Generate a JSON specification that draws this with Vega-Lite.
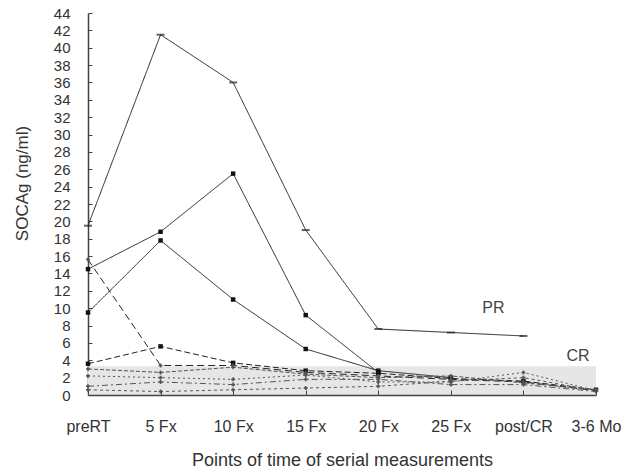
{
  "$schema": "https://vega.github.io/schema/vega-lite/v6.json",
  "width": 508,
  "height": 382,
  "autosize": "none",
  "padding": {"left": 88, "top": 13, "right": 46, "bottom": 81},
  "background": "white",
  "config": {"view": {"stroke": null}, "font": "Liberation Sans", "axis": {"labelOverlap": false}, "axisY": {"labelOverlap": false}, "axisQuantitative": {"labelOverlap": false}},
  "datasets": {
    "series": [
      {"s": "A", "t": "preRT", "v": 19.5}, {"s": "A", "t": "5 Fx", "v": 41.5}, {"s": "A", "t": "10 Fx", "v": 36}, {"s": "A", "t": "15 Fx", "v": 19}, {"s": "A", "t": "20 Fx", "v": 7.6}, {"s": "A", "t": "25 Fx", "v": 7.2}, {"s": "A", "t": "post/CR", "v": 6.8},
      {"s": "B", "t": "preRT", "v": 14.5}, {"s": "B", "t": "5 Fx", "v": 18.8}, {"s": "B", "t": "10 Fx", "v": 25.5}, {"s": "B", "t": "15 Fx", "v": 9.2}, {"s": "B", "t": "20 Fx", "v": 2.6},
      {"s": "C", "t": "preRT", "v": 9.5}, {"s": "C", "t": "5 Fx", "v": 17.8}, {"s": "C", "t": "10 Fx", "v": 11}, {"s": "C", "t": "15 Fx", "v": 5.3}, {"s": "C", "t": "20 Fx", "v": 2.8}, {"s": "C", "t": "25 Fx", "v": 2.0},
      {"s": "D", "t": "preRT", "v": 15.6}, {"s": "D", "t": "5 Fx", "v": 3.4}, {"s": "D", "t": "10 Fx", "v": 3.4}, {"s": "D", "t": "15 Fx", "v": 2.6}, {"s": "D", "t": "20 Fx", "v": 2.2}, {"s": "D", "t": "25 Fx", "v": 1.8}, {"s": "D", "t": "post/CR", "v": 1.5}, {"s": "D", "t": "3-6 Mo", "v": 0.5},
      {"s": "E", "t": "preRT", "v": 3.6}, {"s": "E", "t": "5 Fx", "v": 5.6}, {"s": "E", "t": "10 Fx", "v": 3.7}, {"s": "E", "t": "15 Fx", "v": 2.8}, {"s": "E", "t": "20 Fx", "v": 2.5}, {"s": "E", "t": "25 Fx", "v": 1.9}, {"s": "E", "t": "post/CR", "v": 1.6}, {"s": "E", "t": "3-6 Mo", "v": 0.6},
      {"s": "F", "t": "preRT", "v": 2.2}, {"s": "F", "t": "5 Fx", "v": 2.0}, {"s": "F", "t": "10 Fx", "v": 1.8}, {"s": "F", "t": "15 Fx", "v": 2.3}, {"s": "F", "t": "20 Fx", "v": 1.5}, {"s": "F", "t": "25 Fx", "v": 1.5}, {"s": "F", "t": "post/CR", "v": 2.6}, {"s": "F", "t": "3-6 Mo", "v": 0.5},
      {"s": "G", "t": "preRT", "v": 1.0}, {"s": "G", "t": "5 Fx", "v": 1.5}, {"s": "G", "t": "10 Fx", "v": 1.2}, {"s": "G", "t": "15 Fx", "v": 1.8}, {"s": "G", "t": "20 Fx", "v": 1.8}, {"s": "G", "t": "25 Fx", "v": 1.2}, {"s": "G", "t": "post/CR", "v": 1.2}, {"s": "G", "t": "3-6 Mo", "v": 0.4},
      {"s": "H", "t": "preRT", "v": 0.6}, {"s": "H", "t": "5 Fx", "v": 0.4}, {"s": "H", "t": "10 Fx", "v": 0.6}, {"s": "H", "t": "15 Fx", "v": 0.8}, {"s": "H", "t": "20 Fx", "v": 1.0}, {"s": "H", "t": "25 Fx", "v": 1.6}, {"s": "H", "t": "post/CR", "v": 2.0}, {"s": "H", "t": "3-6 Mo", "v": 0.5},
      {"s": "I", "t": "preRT", "v": 3.0}, {"s": "I", "t": "5 Fx", "v": 2.6}, {"s": "I", "t": "10 Fx", "v": 3.2}, {"s": "I", "t": "15 Fx", "v": 2.4}, {"s": "I", "t": "20 Fx", "v": 2.0}, {"s": "I", "t": "25 Fx", "v": 2.2}, {"s": "I", "t": "post/CR", "v": 1.4}, {"s": "I", "t": "3-6 Mo", "v": 0.6}
    ],
    "band": [{"t": "preRT", "to": "3-6 Mo", "v": 0, "hi": 3.3}],
    "labels": [{"label": "PR", "t": "post/CR", "v": 10.0, "off": -30}, {"label": "CR", "t": "3-6 Mo", "v": 4.5, "off": -18}]
  },
  "encoding": {
    "x": {
      "field": "t", "type": "ordinal",
      "scale": {"type": "point", "padding": 0, "domain": ["preRT", "5 Fx", "10 Fx", "15 Fx", "20 Fx", "25 Fx", "post/CR", "3-6 Mo"]},
      "axis": {
        "title": "Points of time of serial measurements",
        "titleFont": "Liberation Sans", "titleFontSize": 18, "titleFontWeight": "normal", "titleColor": "#333",
        "titleBaseline": "alphabetic", "titleY": 70,
        "labelFont": "Liberation Sans", "labelFontSize": 16, "labelColor": "#333", "labelAngle": 0,
        "labelPadding": 28, "labelOverlap": false, "tickSize": -5, "tickColor": "#444",
        "domainColor": "#444", "domainWidth": 1.5, "grid": false
      }
    },
    "y": {
      "field": "v", "type": "quantitative",
      "scale": {"domain": [0, 44], "nice": false},
      "axis": {
        "title": "SOCAg (ng/ml)",
        "titleFont": "Liberation Sans", "titleFontSize": 17, "titleFontWeight": "normal", "titleColor": "#333",
        "titleBaseline": "alphabetic", "titleX": -61, "titleY": 170, "titleAngle": -90,
        "values": [0, 2, 4, 6, 8, 10, 12, 14, 16, 18, 20, 22, 24, 26, 28, 30, 32, 34, 36, 38, 40, 42, 44],
        "labelFont": "Liberation Sans", "labelFontSize": 15, "labelColor": "#333",
        "labelOverlap": false, "labelPadding": 22, "tickSize": -4, "tickColor": "#444",
        "domainColor": "#444", "domainWidth": 1.5, "grid": false
      }
    }
  },
  "layer": [
    {
      "data": {"name": "band"},
      "mark": {"type": "rect", "color": "#e6e6e6"},
      "encoding": {
        "x2": {"field": "to"},
        "y2": {"field": "hi"}
      }
    },
    {
      "data": {"name": "series"},
      "mark": {"type": "line"},
      "encoding": {
        "detail": {"field": "s"},
        "color": {
          "field": "s", "type": "nominal", "legend": null,
          "scale": {"domain": ["A", "B", "C", "D", "E", "F", "G", "H", "I"], "range": ["#222", "#222", "#222", "#222", "#222", "#555", "#555", "#555", "#555"]}
        },
        "strokeDash": {
          "field": "s", "type": "nominal", "legend": null,
          "scale": {"domain": ["A", "B", "C", "D", "E", "F", "G", "H", "I"], "range": [[1, 0], [1, 0], [1, 0], [7, 4], [6, 3], [2, 3], [6, 3, 2, 3], [3, 3], [4, 2]]}
        },
        "strokeWidth": {
          "field": "s", "type": "nominal", "legend": null,
          "scale": {"domain": ["A", "B", "C", "D", "E", "F", "G", "H", "I"], "range": [1, 1, 1, 1.6, 1.8, 1, 1, 1, 1]}
        }
      }
    },
    {
      "data": {"name": "series"},
      "transform": [{"filter": {"field": "s", "oneOf": ["B", "C", "E"]}}],
      "mark": {"type": "point", "shape": "square", "filled": true, "color": "#111", "size": 20, "opacity": 1}
    },
    {
      "data": {"name": "series"},
      "transform": [{"filter": {"field": "s", "oneOf": ["A"]}}],
      "mark": {"type": "tick", "orient": "horizontal", "color": "#222", "size": 8, "thickness": 2}
    },
    {
      "data": {"name": "series"},
      "transform": [{"filter": {"field": "s", "oneOf": ["D", "F", "G", "H", "I"]}}],
      "mark": {"type": "point", "shape": "cross", "filled": true, "color": "#555", "size": 16, "opacity": 1}
    },
    {
      "data": {"name": "labels"},
      "mark": {"type": "text", "font": "Liberation Sans", "fontSize": 16, "color": "#444", "align": "center", "baseline": "middle"},
      "encoding": {
        "xOffset": {"field": "off", "type": "quantitative", "scale": null},
        "text": {"field": "label"}
      }
    }
  ]
}
